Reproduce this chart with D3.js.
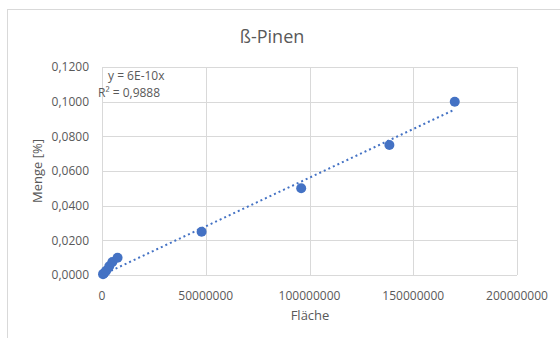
<!DOCTYPE html>
<html><head><meta charset="utf-8">
<script src="https://cdn.jsdelivr.net/npm/d3@7"></script>
<style>body{margin:0;background:#fff}svg{display:block}text{font-family:"Open Sans",Calibri,sans-serif;fill:#595959}</style>
</head><body>
<script>
const title = "ß-Pinen";
const xLabel = "Fläche";
const yLabel = "Menge [%]";
const areas = [500000, 1000000, 2000000, 3500000, 5000000, 7500000, 48000000, 96000000, 138500000, 170000000];
const amounts = [0.0005, 0.001, 0.0025, 0.005, 0.0075, 0.01, 0.025, 0.05, 0.075, 0.1];
const xTicks = [0, 50000000, 100000000, 150000000, 200000000];
const yTicks = [0, 0.02, 0.04, 0.06, 0.08, 0.1, 0.12];
const eqLine1 = "y = 6E-10x";
const eqLine2 = "R² = 0,9888";

const W = 560, H = 338;
const m = {l: 102, r: 517, t: 67, b: 275};
const svg = d3.select("body").append("svg").attr("width", W).attr("height", H);

svg.append("rect").attr("x", 7.5).attr("y", 9.5).attr("width", 600).attr("height", 400)
  .attr("fill", "#fff").attr("stroke", "#d9d9d9").attr("stroke-width", 1);

const x = d3.scaleLinear().domain([0, 200000000]).range([m.l, m.r]);
const y = d3.scaleLinear().domain([0, 0.12]).range([m.b, m.t]);

// gridlines
const g = svg.append("g");
g.selectAll("line.h").data(yTicks).join("line")
  .attr("x1", m.l).attr("x2", m.r)
  .attr("y1", d => Math.round(y(d)) + 0.5).attr("y2", d => Math.round(y(d)) + 0.5)
  .attr("stroke", "#d9d9d9");
g.selectAll("line.v").data(xTicks).join("line")
  .attr("y1", m.t).attr("y2", m.b)
  .attr("x1", d => Math.round(x(d)) + 0.5).attr("x2", d => Math.round(x(d)) + 0.5)
  .attr("stroke", "#d9d9d9");

// axes labels
const fmtY = d => d3.format(".4f")(d).replace(".", ",");
svg.selectAll("text.yt").data(yTicks).join("text")
  .attr("x", 89).attr("y", d => y(d)).attr("dy", "0.35em")
  .attr("text-anchor", "end").attr("font-size", 12).text(fmtY);
svg.selectAll("text.xt").data(xTicks).join("text")
  .attr("x", d => x(d)).attr("y", 296).attr("dy", "0.35em")
  .attr("text-anchor", "middle").attr("font-size", 12).text(d => d3.format("d")(d));

svg.append("text").attr("x", 272).attr("y", 37).attr("dy", "0.35em")
  .attr("text-anchor", "middle").attr("font-size", 18).text(title);
svg.append("text").attr("x", 310).attr("y", 315).attr("dy", "0.35em")
  .attr("text-anchor", "middle").attr("font-size", 13).text(xLabel);
svg.append("text").attr("transform", "translate(37,171) rotate(-90)").attr("dy", "0.35em")
  .attr("text-anchor", "middle").attr("font-size", 13).text(yLabel);

// trendline (least squares through origin)
const slope = d3.sum(areas, (a, i) => a * amounts[i]) / d3.sum(areas, a => a * a);
const xmax = d3.max(areas);
svg.append("line")
  .attr("x1", x(0)).attr("y1", y(0)).attr("x2", x(xmax)).attr("y2", y(slope * xmax))
  .attr("stroke", "#4472c4").attr("stroke-width", 2).attr("stroke-dasharray", "2,3");

// points
svg.selectAll("circle").data(areas).join("circle")
  .attr("cx", d => x(d)).attr("cy", (d, i) => y(amounts[i])).attr("r", 5)
  .attr("fill", "#4472c4");

// equation
svg.append("text").attr("x", 108).attr("y", 76).attr("dy", "0.35em").attr("font-size", 12).text(eqLine1);
svg.append("text").attr("x", 98).attr("y", 93).attr("dy", "0.35em").attr("font-size", 12).text(eqLine2);
</script>
</body></html>
